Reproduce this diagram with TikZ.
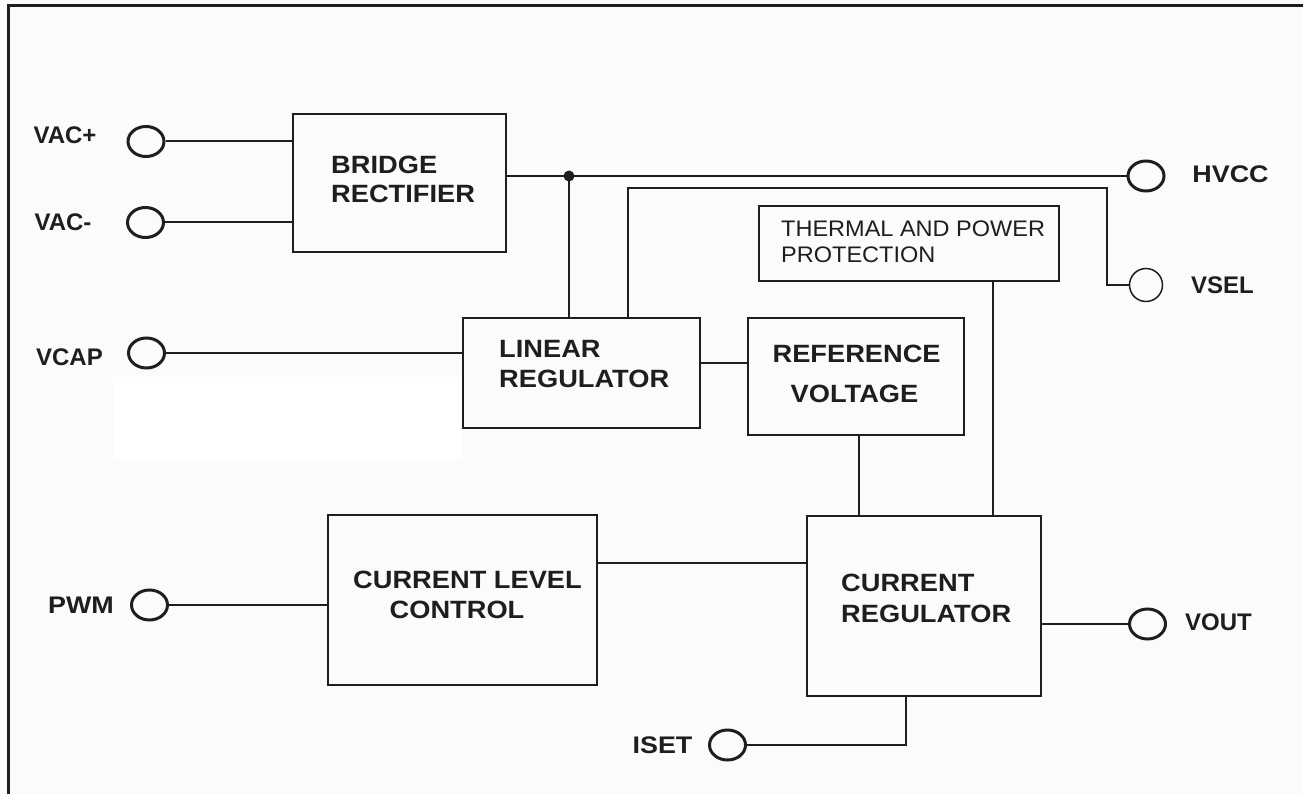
\documentclass[tikz,border=0pt]{standalone}
\usepackage{fontspec}
\setmainfont{Liberation Sans}
\newfontfamily\boxfnt[FakeStretch=1.09]{Liberation Sans}
\newfontfamily\widefnt[FakeStretch=1.12]{Liberation Sans}
\newfontfamily\thfnt[FakeStretch=1.045]{Liberation Sans}
\usetikzlibrary{shapes.geometric}
\definecolor{bgc}{RGB}{251,251,251}
\definecolor{ink}{RGB}{30,30,30}
\begin{document}
\begin{tikzpicture}[x=1pt,y=-1pt,
  blk/.style={draw=ink, line width=2.7pt, inner sep=0pt},
  portc/.style={ellipse, draw=ink, line width=3pt, minimum width=36pt, minimum height=30pt, inner sep=0pt},
  wire/.style={draw=ink, line width=2pt},
  thinwire/.style={draw=ink, line width=1.5pt},
  lbl/.style={font=\fontsize{24}{28}\selectfont\bfseries, anchor=base, inner sep=0pt, text=ink},
  wlbl/.style={lbl, font=\widefnt\fontsize{24}{28}\selectfont\bfseries},
  btxt/.style={font=\boxfnt\fontsize{25}{30}\selectfont\bfseries, inner sep=0pt, text=ink},
  ttxt/.style={font=\thfnt\fontsize{22.5}{27}\selectfont, inner sep=0pt, anchor=base west, text=ink}
]
\useasboundingbox (0,0) rectangle (1303,794);
\fill[bgc] (0,0) rectangle (1303,794);
\fill[white] (113,377) rectangle (463,460);
\draw[ink, line width=3pt] (8,794) -- (8,6) -- (1303,6);

% blocks
\node[blk, minimum width=213pt, minimum height=138pt] (br) at (399.5,183) {};
\node[blk, minimum width=237pt, minimum height=110pt] (lr) at (581.5,373) {};
\node[blk, minimum width=216pt, minimum height=117pt] (rv) at (856,376.5) {};
\node[blk, minimum width=300pt, minimum height=75pt] (th) at (909,243.5) {};
\node[blk, minimum width=269pt, minimum height=170pt] (clc) at (462.5,600) {};
\node[blk, minimum width=234pt, minimum height=180pt] (cr) at (924,606) {};

% terminals
\node[portc] (vacp) at (146,141.5) {};
\node[portc] (vacm) at (145.5,222.5) {};
\node[portc] (vcap) at (146.5,353) {};
\node[portc] (pwm) at (149.5,605) {};
\node[portc] (iset) at (727.5,745) {};
\node[portc] (hvcc) at (1146,176) {};
\node[portc] (vout) at (1147.5,624) {};
\node[circle, draw=ink, line width=1.5pt, minimum size=33pt, inner sep=0pt] (vsel) at (1146,285) {};

% connectors
\coordinate (jn) at (569,176);
\draw[wire] (br.east |- jn) -- (hvcc.west);
\draw[wire] (jn) -- (jn |- lr.north);
\fill[ink] (jn) circle (5.5pt);
\coordinate (v1) at (628,188);
\coordinate (v2) at (1107,188);
\draw[thinwire] (v1 |- lr.north) -- (v1) -- (v2) -- (v2 |- vsel) -- (vsel.west);
\draw[wire] (vacp.east) -- (vacp -| br.west);
\draw[wire] (vacm.east) -- (vacm -| br.west);
\draw[wire] (vcap.east) -- (vcap -| lr.west);
\coordinate (lrm) at (700,363);
\draw[wire] (lr.east |- lrm) -- (rv.west |- lrm);
\coordinate (rvx) at (859,0);
\draw[wire] (rvx |- rv.south) -- (rvx |- cr.north);
\coordinate (thx) at (993,0);
\draw[wire] (thx |- th.south) -- (thx |- cr.north);
\coordinate (clcm) at (0,563);
\draw[wire] (clc.east |- clcm) -- (cr.west |- clcm);
\draw[wire] (pwm.east) -- (pwm -| clc.west);
\draw[wire] (cr.east |- vout) -- (vout.west);
\coordinate (isx) at (906,745);
\draw[wire] (isx |- cr.south) -- (isx) -- (iset.east);

% terminal labels
\node[lbl] (l-vacp) at (65,144) {VAC+};
\node[lbl] (l-vacm) at (63,231) {VAC-};
\node[lbl] (l-vcap) at (69.5,365) {VCAP};
\node[wlbl] (l-pwm) at (81,613) {PWM};
\node[wlbl] (l-iset) at (662.5,753) {ISET};
\node[wlbl] (l-hvcc) at (1230.5,183) {HVCC};
\node[lbl] (l-vsel) at (1222.5,293) {VSEL};
\node[lbl] (l-vout) at (1218.5,630) {VOUT};

% block texts
\node[btxt, anchor=base west] (t-br1) at (331,174) {BRIDGE};
\node[btxt, anchor=base west] (t-br2) at (331,203) {RECTIFIER};
\node[btxt, anchor=base west] (t-lr1) at (499,357) {LINEAR};
\node[btxt, anchor=base west] (t-lr2) at (499,387) {REGULATOR};
\node[btxt, anchor=base] (t-rv1) at (856.6,362) {REFERENCE};
\node[btxt, anchor=base] (t-rv2) at (854.5,402) {VOLTAGE};
\node[ttxt] (t-th1) at (781,237) {THERMAL AND POWER};
\node[ttxt] (t-th2) at (781,263) {PROTECTION};
\node[btxt, anchor=base] (t-clc1) at (467.5,588) {CURRENT LEVEL};
\node[btxt, anchor=base] (t-clc2) at (457,618) {CONTROL};
\node[btxt, anchor=base west] (t-cr1) at (841,591) {CURRENT};
\node[btxt, anchor=base west] (t-cr2) at (841,622) {REGULATOR};
\end{tikzpicture}
\end{document}
